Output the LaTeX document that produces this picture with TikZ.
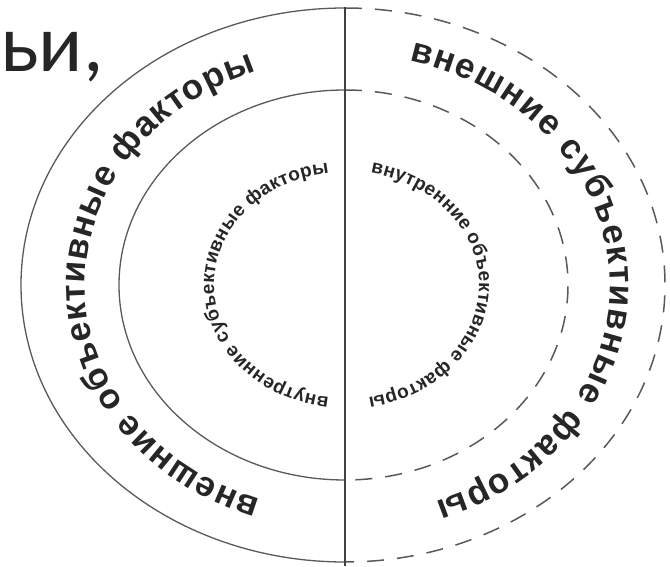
\documentclass[tikz,border=0pt]{standalone}
\usepackage{fontspec}
\setmainfont{Liberation Sans}
\newfontfamily\arcfont{Liberation Sans}[UprightFont={* Bold}]
\newfontfamily\headfont{Carlito}
\usetikzlibrary{decorations.text,calc}

\newcommand\outerfont{\arcfont\fontsize{35}{35}\selectfont}
\newcommand\innerfont{\arcfont\fontsize{19}{19}\selectfont}

\tikzset{
  ring/.style={draw=black!65,line width=1.3pt},
  ringdash/.style={ring,line width=1.5pt,dash pattern=on 17pt off 13pt},
  arctext/.style={decorate,decoration={text along path,text align={fit to path},text color=black!85,text={#1}}}
}

\begin{document}
\begin{tikzpicture}[x=1pt,y=1pt]
  \useasboundingbox (0,0) rectangle (670,566);
  \coordinate (c) at (345,281);
  \coordinate (top) at (345,559);
  \coordinate (bot) at (345,0);
  \node[anchor=base west,inner sep=0pt,text=black!85,font=\headfont\fontsize{82}{82}\selectfont] (word) at (0,494) {ьи,};
  % left halves solid, right halves dashed
  \draw[ring] ($(c)+(0,277)$) arc[start angle=90,end angle=270,x radius=324pt,y radius=277pt];
  \draw[ring] ($(c)+(0,195)$) arc[start angle=90,end angle=270,x radius=226pt,y radius=195pt];
  \draw[ringdash] ($(c)+(0,277)$) arc[start angle=90,end angle=-90,x radius=320pt,y radius=277pt];
  \draw[ringdash] ($(c)+(0,195)$) arc[start angle=90,end angle=-90,x radius=223pt,y radius=195pt];
  \draw[draw=black!75,line width=1.8pt] (top) -- (bot);
  % texts along the rings
  \path[arctext={|\outerfont|внешние объективные факторы}]
    ($(c)+(251:260pt and 227pt)$) arc[start angle=251,end angle=110,x radius=260pt,y radius=227pt];
  \path[arctext={|\outerfont|внешние субъективные факторы}]
    ($(c)+(76:265pt and 231pt)$) arc[start angle=76,end angle=-70,x radius=265pt,y radius=231pt];
  \path[arctext={|\innerfont|внутренние субъективные факторы}]
    ($(c)+(263:131pt and 113pt)$) arc[start angle=263,end angle=97,x radius=131pt,y radius=113pt];
  \path[arctext={|\innerfont|внутренние объективные факторы}]
    ($(c)+(79:134pt and 114pt)$) arc[start angle=79,end angle=-80,x radius=134pt,y radius=114pt];
\end{tikzpicture}
\end{document}
